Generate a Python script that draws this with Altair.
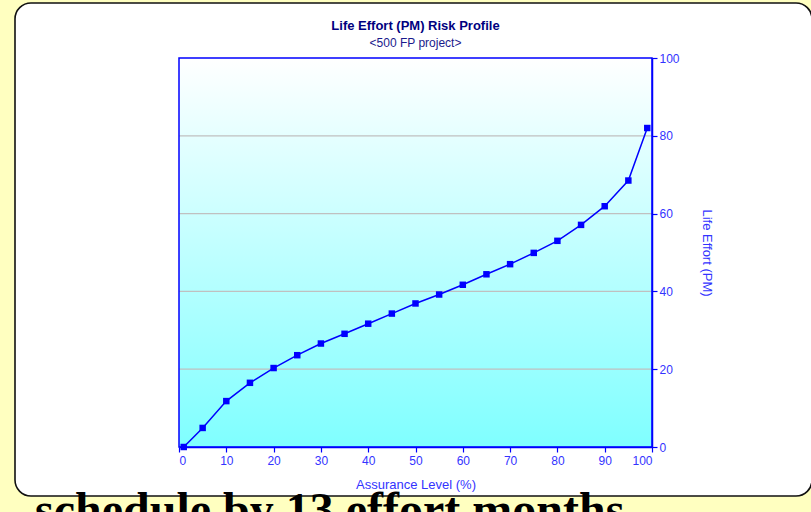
import altair as alt
import pandas as pd

# ---- data ----
assurance = [1, 5, 10, 15, 20, 25, 30, 35, 40, 45, 50, 55, 60, 65, 70, 75, 80, 85, 90, 95, 99]
effort = [0.0, 4.9, 11.8, 16.5, 20.3, 23.6, 26.6, 29.1, 31.7, 34.3, 36.9, 39.2,
          41.7, 44.4, 47.0, 49.9, 53.0, 57.1, 61.9, 68.5, 82.0]
x_ticks = [0, 10, 20, 30, 40, 50, 60, 70, 80, 90, 100]
y_ticks = [0, 20, 40, 60, 80, 100]
grid_values = [20, 40, 60, 80]
title_text = ["Life Effort (PM) Risk Profile"]
subtitle_text = ["<500 FP project>"]
x_title = "Assurance Level (%)"
y_title = "Life Effort (PM)"
footer_text = ["schedule by 13 effort months"]

W, H = 473, 389
BLUE = "#0000FF"
LBLUE = "#3333FF"
FONT = "Liberation Sans"

df = pd.DataFrame({"assurance": assurance, "effort": effort})
grid_df = pd.DataFrame({"g": grid_values})
one = pd.DataFrame({"k": [0]})

xscale = alt.Scale(domain=[0, 100], nice=False, zero=False)
yscale = alt.Scale(domain=[0, 100], nice=False)

xaxis = alt.Axis(title=x_title, values=x_ticks, grid=False, orient="bottom",
                 domainColor=BLUE, domainWidth=1.5, tickColor=BLUE, tickSize=5,
                 tickWidth=1.2, labelColor=LBLUE, labelFont=FONT, labelFontSize=12,
                 labelPadding=3, titleColor=LBLUE, titleFont=FONT, titleFontSize=13,
                 titleFontWeight="normal", titlePadding=12, zindex=1)
yaxis = alt.Axis(title=y_title, values=y_ticks, grid=False, orient="right",
                 domainColor=BLUE, domainWidth=1.5, tickColor=BLUE, tickSize=5,
                 tickWidth=1.2, labelColor=LBLUE, labelFont=FONT, labelFontSize=12,
                 labelPadding=2, titleColor=LBLUE, titleFont=FONT, titleFontSize=13,
                 titleFontWeight="normal", titlePadding=20, titleAngle=90, zindex=1)

panel = alt.Chart(one).mark_rect(
    fill="white", stroke="#111111", strokeWidth=1.6, cornerRadius=16
).encode(x=alt.value(15 - 179), x2=alt.value(812 - 179),
         y=alt.value(3 - 58), y2=alt.value(496 - 58))

gradient = alt.Chart(one).mark_rect(
    color=alt.LinearGradient(
        gradient="linear", x1=0, y1=0, x2=0, y2=1,
        stops=[alt.GradientStop(color="#FFFFFF", offset=0),
               alt.GradientStop(color="#7FFFFF", offset=1)])
).encode(x=alt.value(0), x2=alt.value(W), y=alt.value(0), y2=alt.value(H))

grid = alt.Chart(grid_df).mark_rule(color="#C0C0C0", strokeWidth=1.2).encode(
    y=alt.Y("g:Q", scale=yscale, axis=yaxis), x=alt.value(0), x2=alt.value(W))

border = alt.Chart(one).mark_rect(fillOpacity=0, stroke=BLUE, strokeWidth=1.5).encode(
    x=alt.value(0), x2=alt.value(W), y=alt.value(0), y2=alt.value(H))

line = alt.Chart(df).mark_line(color=BLUE, strokeWidth=1.5).encode(
    x=alt.X("assurance:Q", scale=xscale, axis=xaxis),
    y=alt.Y("effort:Q", scale=yscale, axis=yaxis))

points = alt.Chart(df).mark_square(color=BLUE, size=42, opacity=1).encode(
    x=alt.X("assurance:Q", scale=xscale, axis=xaxis),
    y=alt.Y("effort:Q", scale=yscale, axis=yaxis))

title = alt.Chart(pd.DataFrame({"t": title_text})).mark_text(
    font=FONT, fontSize=13, fontWeight="bold", color="#000080",
    align="center", baseline="alphabetic"
).encode(text="t:N", x=alt.value(W / 2), y=alt.value(30 - 58))

subtitle = alt.Chart(pd.DataFrame({"t": subtitle_text})).mark_text(
    font=FONT, fontSize=12, color="#1a1a8c", align="center", baseline="alphabetic"
).encode(text="t:N", x=alt.value(W / 2), y=alt.value(47 - 58))

footer = alt.Chart(pd.DataFrame({"t": footer_text})).mark_text(
    font="Liberation Serif", fontSize=48, fontWeight="bold",
    align="left", baseline="alphabetic", color="#000000"
).encode(text="t:N", x=alt.value(35 - 179), y=alt.value(526 - 58))

chart = alt.layer(panel, gradient, grid, border, line, points, title, subtitle, footer).properties(
    width=W, height=H,
    autosize=alt.AutoSizeParams(type="none"),
    padding={"left": 179, "top": 58, "right": 159, "bottom": 65},
).configure(background="#FFFFC0").configure_view(strokeWidth=0)

chart.save("out.html", embed_options={"renderer": "svg", "actions": False})
